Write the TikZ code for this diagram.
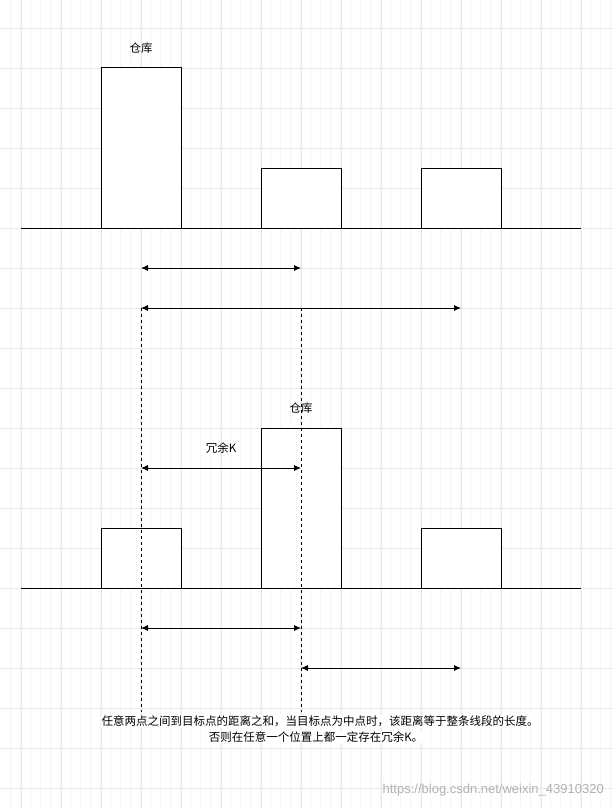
\documentclass[tikz,border=0pt]{standalone}
\usepackage{fontspec}
\newfontfamily\cjk{Noto Sans CJK SC}
\setsansfont{Liberation Sans}
\usetikzlibrary{arrows.meta}
\begin{document}
\begin{tikzpicture}[x=1pt,y=-1pt,
  box/.style={draw,line width=1pt,fill=white},
  ground/.style={line width=1pt},
  dim/.style={line width=0.9pt,{Latex[length=7pt,width=6pt]}-{Latex[length=7pt,width=6pt]}},
  guide/.style={line width=0.8pt,dash pattern=on 3pt off 3pt},
  lbl/.style={font=\cjk\fontsize{11.5}{13}\selectfont,inner sep=0pt}]
\useasboundingbox (0,0) rectangle (613,808);
\fill[white] (0,0) rectangle (613,808);
\draw[black!4,line width=0.5pt] (1,-2) grid[step=10] (613,808);
\foreach \x in {21,61,...,613} \draw[black!9,line width=0.6pt] (\x,0) -- (\x,808);
\foreach \y in {28,68,...,808} \draw[black!9,line width=0.6pt] (0,\y) -- (613,\y);
% top
\node[box,minimum width=80pt,minimum height=160pt,inner sep=0pt] (w1) at (141,148) {};
\node[box,minimum width=80pt,minimum height=60pt,inner sep=0pt] (p2) at (301,198) {};
\node[box,minimum width=80pt,minimum height=60pt,inner sep=0pt] (p3) at (461,198) {};
\coordinate (g1a) at (21,228); \coordinate (g1b) at (581,228);
\draw[ground] (g1a) -- (g1b);
\node[lbl] (t1) at (141,48) {仓库};
\coordinate (a1) at (141,268); \coordinate (a2) at (301,268);
\draw[dim] (a1) -- (a2);
\coordinate (b1) at (141,308); \coordinate (b2) at (461,308);
\draw[dim] (b1) -- (b2);
% bottom
\node[box,minimum width=80pt,minimum height=60pt,inner sep=0pt] (q1) at (141,558) {};
\node[box,minimum width=80pt,minimum height=160pt,inner sep=0pt] (w2) at (301,508) {};
\node[box,minimum width=80pt,minimum height=60pt,inner sep=0pt] (q3) at (461,558) {};
\coordinate (g2a) at (21,588); \coordinate (g2b) at (581,588);
\draw[ground] (g2a) -- (g2b);
\node[lbl] (t2) at (301,408) {仓库};
\node[lbl] (k) at (221,448) {冗余K};
\coordinate (c1) at (141,468); \coordinate (c2) at (301,468);
\draw[dim] (c1) -- (c2);
\coordinate (d1) at (141,628); \coordinate (d2) at (301,628);
\draw[dim] (d1) -- (d2);
\coordinate (e1) at (301,668); \coordinate (e2) at (461,668);
\draw[dim] (e1) -- (e2);
% guides
\coordinate (v1a) at (141,308); \coordinate (v1b) at (141,712);
\coordinate (v2a) at (301,308); \coordinate (v2b) at (301,712);
\draw[guide] (v1a) -- (v1b);
\draw[guide] (v2a) -- (v2b);
\node[lbl,fill=white,inner sep=1pt] (n1) at (320,721) {任意两点之间到目标点的距离之和，当目标点为中点时，该距离等于整条线段的长度。};
\node[lbl,fill=white,inner sep=1pt] (n2) at (316,737) {否则在任意一个位置上都一定存在冗余K。};
\node[font=\fontsize{13}{15}\selectfont\sffamily,text=black!30,anchor=east,inner sep=0pt] (wm) at (604,790) {https://blog.csdn.net/weixin\_43910320};
\end{tikzpicture}
\end{document}
